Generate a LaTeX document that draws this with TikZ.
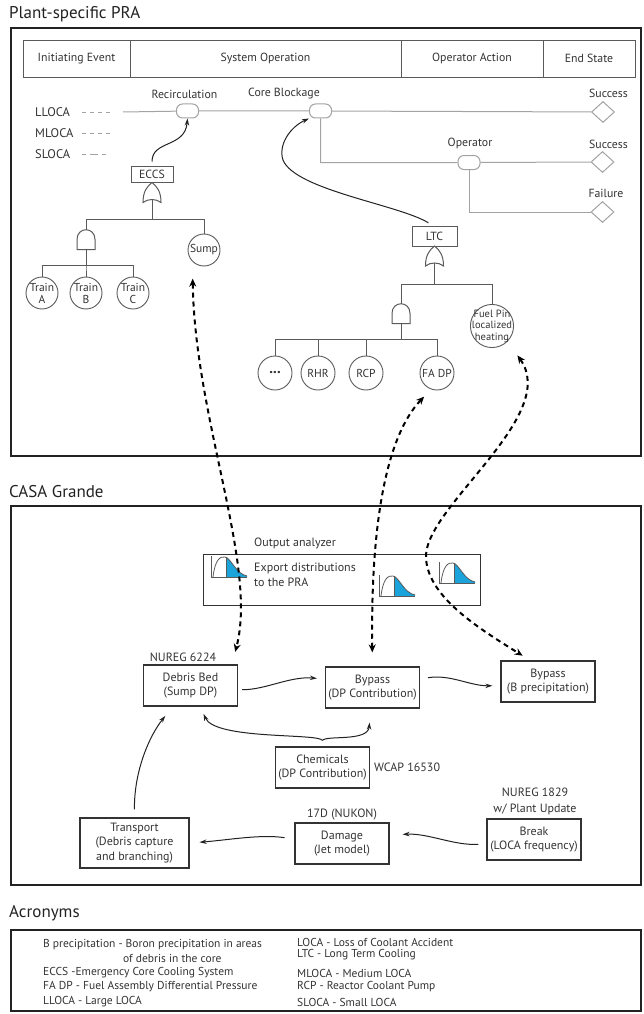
\documentclass[tikz,border=0pt]{standalone}
\usepackage{fontspec}
\setmainfont{PT Sans}
\usetikzlibrary{positioning,calc,arrows.meta,shapes.geometric}
\definecolor{frm}{HTML}{222222}
\definecolor{ink}{HTML}{333333}
\definecolor{etl}{HTML}{A3A3A3}
\definecolor{ftl}{HTML}{5A5A5A}
\definecolor{distblue}{HTML}{1BA3DC}

\begin{document}
\begin{tikzpicture}[x=1pt,y=-1pt,
every node/.style={text=ink,inner sep=1pt,font=\fontsize{11.8}{13}\selectfont},
sec/.style={anchor=west,text=frm,font=\fontsize{17}{19}\selectfont},
secframe/.style={draw=frm,line width=2.5pt},
hdr/.style={draw=ftl,line width=0.9pt},
evt/.style={draw=etl,fill=white,line width=1pt,rounded corners=6pt,minimum width=22pt,minimum height=14pt,inner sep=0pt},
endst/.style={diamond,draw=etl,fill=white,line width=1pt,minimum width=23pt,minimum height=21pt,inner sep=0pt},
etline/.style={draw=etl,line width=1pt},
ieline/.style={draw=etl,line width=0.8pt,dash pattern=on 4pt off 4pt},
gate/.style={draw=ftl,fill=white,line width=1pt},
ftwire/.style={draw=ftl,line width=1pt},
ftbox/.style={draw=ftl,line width=1pt,minimum width=42pt,minimum height=16pt,inner sep=0pt},
basic/.style={circle,draw=ftl,line width=0.9pt,minimum size=32pt,inner sep=0pt,align=center,font=\fontsize{11.5}{12}\selectfont},
cbox/.style={draw=ink,line width=1.2pt,minimum width=94pt,minimum height=41pt,inner sep=1pt,align=center,font=\fontsize{12}{14.5}\selectfont},
acr/.style={anchor=west,font=\fontsize{11.5}{13}\selectfont},
link/.style={draw=frm,line width=1pt,-{Stealth[length=7pt,width=4.5pt]}},
dlink/.style={draw=black,line width=2pt,dash pattern=on 5pt off 4pt,{Stealth[length=8pt,width=7pt]}-{Stealth[length=8pt,width=7pt]}},
orgate/.pic={
  \path[gate] (0,-10) .. controls (5,-6) and (9,-1) .. (9,10) .. controls (4,6) and (-4,6) .. (-9,10) .. controls (-9,-1) and (-5,-6) .. (0,-10) -- cycle;
  \coordinate (-in) at (0,-10);
  \coordinate (-out) at (0,7);
},
andgate/.pic={
  \path[gate] (-9,10) -- (-9,0) .. controls (-9,-13) and (9,-13) .. (9,0) -- (9,10) -- cycle;
  \coordinate (-in) at (0,-9.75);
  \coordinate (-out) at (0,10);
},
distplot/.pic={
  \begin{scope}
  \clip (2,0) .. controls (4,-17) and (9,-21) .. (14,-20) .. controls (20,-19) and (25,-3) .. (36,-1) -- (36,0) -- cycle;
  \fill[distblue] (15,0) rectangle (37,-25);
  \end{scope}
  \draw[ftl,line width=0.8pt] (2,0) .. controls (4,-17) and (9,-21) .. (14,-20) .. controls (20,-19) and (25,-3) .. (36,-1);
  \draw[ftl,line width=0.8pt] (15,0) -- (15,-19.7);
  \draw[ftl,line width=0.8pt] (0,-21) -- (0,0) -- (36,0);
}]

\useasboundingbox (0,0) rectangle (643,1014);

\node[sec] (t1) at (8,14) {Plant-specific PRA};
\draw[secframe] (11,28) rectangle (641,456);

\draw[hdr] (23,40) rectangle (635,77);
\foreach \x in {130,401,543} \draw[hdr] (\x,40) -- (\x,77);
\foreach \x/\t [count=\i] in {76.5/Initiating Event,265.5/System Operation,472/Operator Action,589/End State}
  \node (hd\i) at (\x,58.5) {\t};

\node[anchor=west,font=\fontsize{12.5}{14}\selectfont] (ie1) at (34,112) {LLOCA};
\node[anchor=west,font=\fontsize{12.5}{14}\selectfont] (ie2) at (34,133) {MLOCA};
\node[anchor=west,font=\fontsize{12.5}{14}\selectfont] (ie3) at (34,154) {SLOCA};
\foreach \y in {112,133} \draw[ieline] (82,\y) -- ++(31,0);
\draw[ieline,dash pattern=on 4pt off 4pt on 8pt off 4pt] (82,154) -- ++(26,0);
\coordinate (et0) at (123,112);

\node[evt] (rec) at (187.5,111) {};
\node[evt] (cbl) at (320.5,111) {};
\node[evt] (opr) at (469,162.5) {};
\node[endst] (es1) at (603,112) {};
\node[endst] (es2) at (602.5,162) {};
\node[endst] (es3) at (602.5,212) {};
\draw[etline] (et0) -- (rec) -- (cbl) -- (es1);
\draw[etline] (cbl) |- (opr) -- (es2);
\draw[etline] (opr) |- (es3);

\node (l1) at (184.5,94) {Recirculation};
\node (l2) at (284,94) {Core Blockage};
\node (l3) at (608.5,93) {Success};
\node (l4) at (470,143) {Operator};
\node (l5) at (608.5,144) {Success};
\node (l6) at (606,193) {Failure};

\node[ftbox] (eccs) at (152,174) {ECCS};
\pic (g1) at (152,192.5) {orgate};
\pic (a1) at (86,239.5) {andgate};
\node[basic] (sump) at (204,250) {Sump};
\foreach \n/\x/\l in {ta/42/A,tb/86/B,tc/133/C}
  \node[basic] (\n) at (\x,293) {Train\\\l};
\draw[ftwire] (g1-out) -- ++(0,19.5) -| (a1-in);
\draw[ftwire] (g1-out) -- ++(0,19.5) -| (sump);
\foreach \n in {ta,tb,tc} \draw[ftwire] (a1-out) -- ++(0,15.5) -| (\n);

\node[ftbox,minimum width=45pt,minimum height=20pt] (ltc) at (434.5,236) {LTC};
\pic (g2) at (434.5,256) {orgate};
\pic (a2) at (401,313.5) {andgate};
\node[basic,inner sep=-3pt,font=\fontsize{10.5}{11.5}\selectfont] (fpin) at (492,326) {Fuel Pin\\localized\\heating};
\foreach \n/\x/\t in {dots/275/{\fontsize{15}{15}\selectfont\bfseries ...},rhr/318/RHR,rcp/366/RCP,fadp/437/FA DP}
  \node[basic,minimum size=34pt] (\n) at (\x,373) {\t};
\draw[ftwire] (g2-out) -- ++(0,21) -| (a2-in);
\draw[ftwire] (g2-out) -- ++(0,21) -| (fpin);
\foreach \n in {dots,rhr,rcp,fadp} \draw[ftwire] (a2-out) -- ++(0,15.5) -| (\n);

\draw[link,shorten <=4pt] (eccs.north) .. controls (152,140) and (185,148) .. (rec.south);
\draw[link,shorten <=5pt] (ltc.100) .. controls (400,205) and (295,190) .. (283,160) .. controls (278,145) and (290,127) .. (cbl.south west);

\node[sec] (t2) at (8,492) {CASA Grande};
\draw[secframe] (11,506) rectangle (641,885);

\node[font=\fontsize{12}{14}\selectfont] (oa) at (295,543) {Output analyzer};
\node[draw=ink,line width=1pt,minimum width=277pt,minimum height=51pt] (outb) at (341.5,579.5) {};
\node[anchor=west,align=left,font=\fontsize{12}{15}\selectfont] (exp) at (253,574.5) {Export distributions\\to the PRA};
\foreach \x/\y [count=\i] in {211/577,379/596,439/583} \pic (ic\i) at (\x,\y) {distplot};

\node[cbox] (deb) at (190.5,685.5) {Debris Bed\\(Sump DP)};
\node[cbox] (byp) at (372.5,687.5) {Bypass\\(DP Contribution)};
\node[cbox] (bpr) at (548,681.5) {Bypass\\(B precipitation)};
\node[cbox] (chm) at (322.5,767.5) {Chemicals\\(DP Contribution)};
\node[cbox,minimum width=109pt,minimum height=50pt] (trn) at (134.5,843) {Transport\\(Debris capture\\and branching)};
\node[cbox] (dmg) at (342,843.5) {Damage\\(Jet model)};
\node[cbox] (brk) at (534,839.5) {Break\\(LOCA frequency)};

\node[font=\fontsize{12}{14}\selectfont] (r1) at (183,657) {NUREG 6224};
\node[anchor=west,font=\fontsize{12}{14}\selectfont] (r2) at (373,767) {WCAP 16530};
\node[font=\fontsize{12}{14}\selectfont] (r3) at (342,815) {17D (NUKON)};
\node[align=center,font=\fontsize{12}{16}\selectfont] (r4) at (535,801) {NUREG 1829\\w/ Plant Update};

\coordinate (fk) at ($(chm.north)+(0,-6)$);
\draw[link,shorten <=4pt,shorten >=8pt] (deb.-5) .. controls (265,690) and (290,676) .. (byp.170);
\draw[link,shorten <=8pt,shorten >=8pt] (byp.10) .. controls (450,674) and (470,686) .. (bpr.185);
\draw[link,shorten >=8pt] (fk) .. controls (318,733) and (215,740) .. (deb.-65);
\draw[link,shorten >=14pt] (fk) .. controls (326,735) and (368,742) .. (byp.-95);
\draw[link,shorten <=8pt,shorten >=12pt] (trn.north) .. controls (134,770) and (150,735) .. (deb.-130);
\draw[link,shorten <=8pt,shorten >=13pt] (brk.185) .. controls (455,846) and (428,833) .. (dmg.10);
\draw[link,shorten <=10pt,shorten >=10pt] (dmg.175) .. controls (262,834) and (228,840) .. (trn.east);

\draw[dlink,shorten <=17pt,shorten >=13pt] (sump.225) .. controls (195,420) and (258,565) .. (deb.27);
\draw[dlink,shorten <=10pt,shorten >=14pt] (fadp.-110) .. controls (378,445) and (371,560) .. (byp.north);
\draw[dlink,shorten <=17pt,shorten >=9pt] (fpin.-45) .. controls (560,415) and (428,505) .. (426,555) .. controls (425,595) and (478,628) .. (bpr.130);

\node[sec] (t3) at (8,913) {Acronyms};
\draw[secframe] (11,930) rectangle (641,1011);
\foreach \y/\t [count=\i] in {945/B precipitation - Boron precipitation in areas,973/ECCS -Emergency Core Cooling System,987/FA DP - Fuel Assembly Differential Pressure,1002/LLOCA - Large LOCA}
  \node[acr] (ac\i) at (42,\y) {\t};
\node[acr] (ac5) at (122,958) {of debris in the core};
\foreach \y/\t [count=\i] in {942/LOCA - Loss of Coolant Accident,955/LTC - Long Term Cooling,973/MLOCA - Medium LOCA,987/RCP - Reactor Coolant Pump,1002/SLOCA - Small LOCA}
  \node[acr] (ad\i) at (296,\y) {\t};

\end{tikzpicture}
\end{document}
